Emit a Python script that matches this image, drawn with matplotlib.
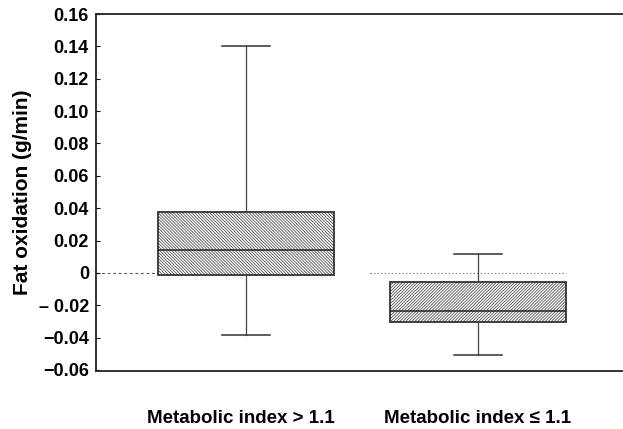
import matplotlib
matplotlib.use("Agg")
import matplotlib.pyplot as plt
import numpy as np

plt.rcParams['font.family'] = ['Liberation Sans', 'DejaVu Sans']
plt.rcParams['hatch.linewidth'] = 0.6

categories = ["Metabolic index > 1.1", "Metabolic index \u2264 1.1"]
whisker_low = [-0.0384, -0.0507]
q1 = [-0.0014, -0.0307]
median = [0.0139, -0.0239]
q3 = [0.0374, -0.0059]
whisker_high = [0.1405, 0.0119]
hatches = ['\\' * 11, '/' * 11]

yticks = [-0.06, -0.04, -0.02, 0, 0.02, 0.04, 0.06, 0.08, 0.10, 0.12, 0.14, 0.16]
yticklabels = ["\u22120.06", "\u22120.04", "\u2013 0.02", "0", "0.02", "0.04", "0.06",
               "0.08", "0.10", "0.12", "0.14", "0.16"]

fig = plt.figure(figsize=(6.23, 4.29), dpi=100)
ax = fig.add_axes([0.154, 0.136, 0.846, 0.831])

positions = [1, 2]
width = 0.76
cap = 0.21
stats = []
for i in range(2):
    stats.append(dict(med=median[i], q1=q1[i], q3=q3[i],
                      whislo=whisker_low[i], whishi=whisker_high[i],
                      fliers=[], label=categories[i]))

bp = ax.bxp(stats, positions=positions, widths=width, patch_artist=True,
            showfliers=False,
            boxprops=dict(facecolor='white', edgecolor='#333333', linewidth=1.3),
            medianprops=dict(color='#222222', linewidth=1.1),
            whiskerprops=dict(color='#444444', linewidth=0.9),
            capprops=dict(color='#333333', linewidth=1.1),
            capwidths=cap)
for patch, h in zip(bp['boxes'], hatches):
    patch.set_hatch(h)
    patch._hatch_color = matplotlib.colors.to_rgba('#555555')

ax.set_xlim(0.353, 2.625)
ax.set_ylim(-0.0605, 0.159)

# zero reference line
ax.hlines(0, 0.353, positions[0] - width / 2, colors='#555555',
          linestyles=(0, (2.5, 2.5)), linewidth=0.8, zorder=0)
ax.hlines(0, 1.534, positions[1] + width / 2, colors='#777777',
          linestyles=(0, (1.2, 2.0)), linewidth=0.8, zorder=0)

ax.set_yticks(yticks)
ax.set_yticklabels(yticklabels, fontsize=13, fontweight='bold')
ax.tick_params(axis='y', direction='in', length=3, width=0.8, pad=5)
ax.set_xticks(positions)
ax.set_xticklabels(categories, fontsize=13.5, fontweight='bold')
ax.tick_params(axis='x', length=0, pad=28)
for lbl, dx in zip(ax.get_xticklabels(), [-5, 0]):
    lbl.set_transform(lbl.get_transform() +
                      matplotlib.transforms.ScaledTranslation(dx / 100, 0, fig.dpi_scale_trans))

ax.set_ylabel("Fat oxidation (g/min)", fontsize=15, fontweight='bold', labelpad=5)

for s in ['left', 'bottom', 'top']:
    ax.spines[s].set_linewidth(1.3)
    ax.spines[s].set_color('#222222')
ax.spines['right'].set_visible(False)

fig.savefig("out.png", dpi=100)
